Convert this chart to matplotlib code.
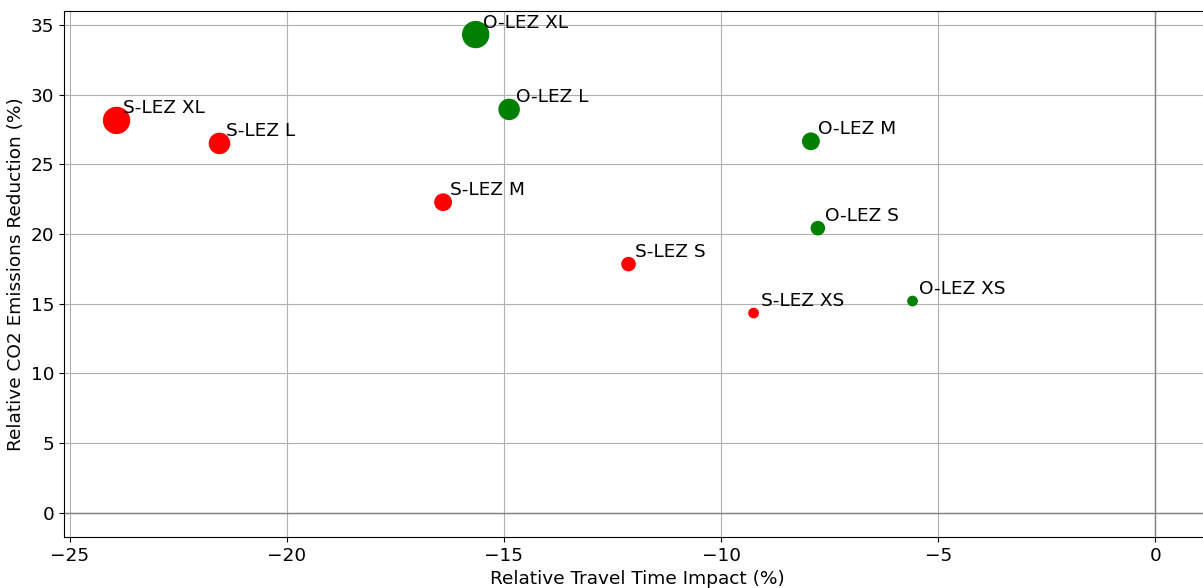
import matplotlib
matplotlib.use("Agg")
import matplotlib.pyplot as plt

labels = ["S-LEZ XL", "S-LEZ L", "S-LEZ M", "S-LEZ S", "S-LEZ XS",
          "O-LEZ XL", "O-LEZ L", "O-LEZ M", "O-LEZ S", "O-LEZ XS"]
travel_time = [-23.92, -21.55, -16.40, -12.13, -9.25,
               -15.65, -14.88, -7.93, -7.77, -5.59]
co2_reduction = [28.15, 26.50, 22.28, 17.84, 14.33,
                 34.31, 28.94, 26.65, 20.42, 15.19]
sizes = [350, 210, 140, 90, 45,
         350, 210, 140, 90, 45]
colors = ["red"] * 5 + ["green"] * 5

fig = plt.figure(figsize=(12.03, 5.88), dpi=100)
ax = fig.add_axes([64/1203, 1 - 537/588, (1210 - 64)/1203, (537 - 11)/588])

ax.scatter(travel_time, co2_reduction, s=sizes, c=colors, zorder=3)
for lab, x, y in zip(labels, travel_time, co2_reduction):
    ax.annotate(lab, (x, y), xytext=(5, 5), textcoords="offset points", fontsize=13.3)

ax.axhline(0, color="gray", linewidth=1)
ax.axvline(0, color="gray", linewidth=1)
ax.grid(True)
ax.set_xlim(-25.13, 1.26)
ax.set_ylim(-1.74, 36.0)
ax.tick_params(labelsize=13.3)
ax.set_xlabel("Relative Travel Time Impact (%)", fontsize=13.3)
ax.set_ylabel("Relative CO2 Emissions Reduction (%)", fontsize=13.3)

fig.savefig("out.png", dpi=100)
